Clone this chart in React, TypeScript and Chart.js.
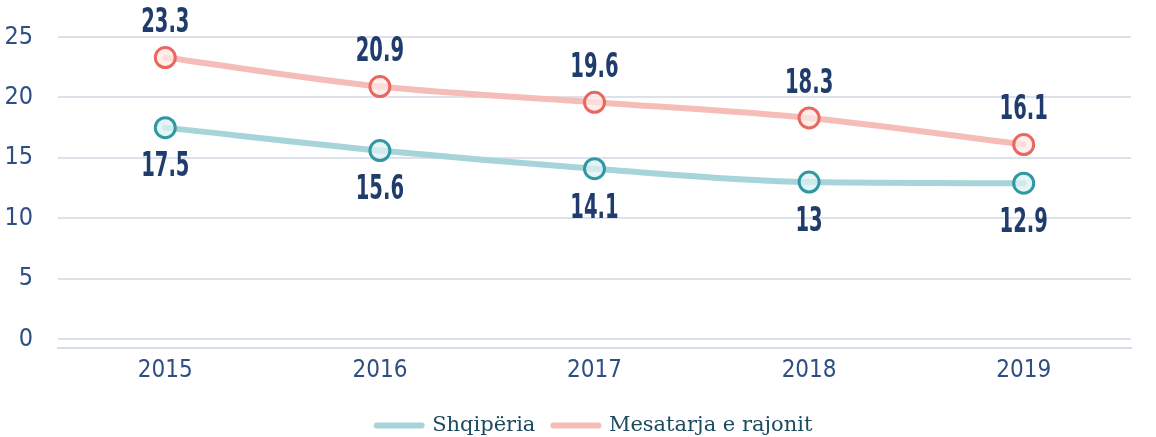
import React, { useEffect, useRef } from "react";
import { Chart, registerables } from "chart.js";

Chart.register(...registerables);

const years = ["2015", "2016", "2017", "2018", "2019"];
const albania = [17.5, 15.6, 14.1, 13, 12.9];
const regional = [23.3, 20.9, 19.6, 18.3, 16.1];
const yTicks = [0, 5, 10, 15, 20, 25];
const seriesNames = ["Shqipëria", "Mesatarja e rajonit"];
const lineColors = ["#a7d4d9", "#f5bcb8"];
const pointColors = ["#2f98a3", "#e9675f"];

const NARROW = '"Liberation Sans Narrow", "DejaVu Sans Condensed", "Arial Narrow", sans-serif';
const SERIF = '"DejaVu Serif", "Liberation Serif", serif';
const AXIS_COLOR = "#2f4f82";
const LABEL_COLOR = "#1f3c6c";

const dataLabelPlugin = {
  id: "dataLabels",
  afterDatasetsDraw(chart: any) {
    const ctx = chart.ctx;
    chart.data.datasets.forEach((ds: any, di: number) => {
      const meta = chart.getDatasetMeta(di);
      const offset = di === 0 ? 40 : -34;
      meta.data.forEach((pt: any, i: number) => {
        const v = ds.data[i];
        ctx.save();
        ctx.translate(pt.x, pt.y + offset);
        ctx.scale(0.64, 1);
        ctx.font = `bold 34px ${NARROW}`;
        ctx.fillStyle = LABEL_COLOR;
        ctx.textAlign = "center";
        ctx.textBaseline = "middle";
        ctx.fillText(String(v), 0, 0);
        ctx.restore();
      });
    });
  },
};

export default function App() {
  const ref = useRef<HTMLCanvasElement | null>(null);
  useEffect(() => {
    document.body.style.margin = "0";
    if (!ref.current) return;
    const chart = new Chart(ref.current, {
      type: "line",
      data: {
        labels: years,
        datasets: [
          {
            label: seriesNames[0],
            data: albania,
            borderColor: lineColors[0],
            backgroundColor: lineColors[0],
            borderWidth: 6,
            borderCapStyle: "round",
            cubicInterpolationMode: "monotone",
            pointRadius: 10,
            pointBorderWidth: 3,
            pointBorderColor: pointColors[0],
            pointBackgroundColor: "rgba(220,240,242,0.75)",
          },
          {
            label: seriesNames[1],
            data: regional,
            borderColor: lineColors[1],
            backgroundColor: lineColors[1],
            borderWidth: 6,
            borderCapStyle: "round",
            cubicInterpolationMode: "monotone",
            pointRadius: 10,
            pointBorderWidth: 3,
            pointBorderColor: pointColors[1],
            pointBackgroundColor: "rgba(253,232,230,0.75)",
          },
        ],
      } as any,
      options: {
        animation: false,
        responsive: true,
        maintainAspectRatio: false,
        layout: { padding: { top: 37, right: 25, left: 0, bottom: -9 } },
        plugins: {
          legend: {
            position: "bottom",
            fullSize: false,
            labels: {
              usePointStyle: true,
              pointStyle: "line",
              pointStyleWidth: 45,
              boxWidth: 45,
              boxHeight: 6,
              padding: 18,
              color: "#1b4a5e",
              font: { family: SERIF, size: 21 },
              generateLabels: (chart: any) =>
                Chart.defaults.plugins.legend.labels
                  .generateLabels(chart)
                  .map((l: any, i: number) => ({
                    ...l,
                    strokeStyle: lineColors[i],
                    fillStyle: lineColors[i],
                    lineWidth: 6,
                    lineCap: "round",
                    pointStyle: "line",
                  })),
            },
          },
          tooltip: { enabled: false },
        },
        scales: {
          x: {
            offset: true,
            grid: { display: false, drawTicks: false },
            border: { display: true, color: "#d7dce5", width: 2 },
            afterFit: (scale: any) => {
              scale.height += 4;
            },
            ticks: {
              color: AXIS_COLOR,
              padding: 8,
              font: { family: NARROW, size: 24 },
            },
          },
          y: {
            min: -0.75,
            max: 25,
            afterBuildTicks: (scale: any) => {
              scale.ticks = yTicks.map((v) => ({ value: v }));
            },
            afterFit: (scale: any) => {
              scale.width = 58;
              scale.paddingTop = 15;
              scale.paddingBottom = 15;
            },
            grid: { color: "#dde2ea", lineWidth: 2, drawTicks: false },
            border: { display: false },
            ticks: {
              color: AXIS_COLOR,
              padding: 25,
              font: { family: NARROW, size: 25 },
            },
          },
        },
      } as any,
      plugins: [dataLabelPlugin],
    });
    return () => chart.destroy();
  }, []);
  return (
    <div style={{ width: 1156, height: 437, position: "relative" }}>
      <canvas ref={ref} />
    </div>
  );
}
